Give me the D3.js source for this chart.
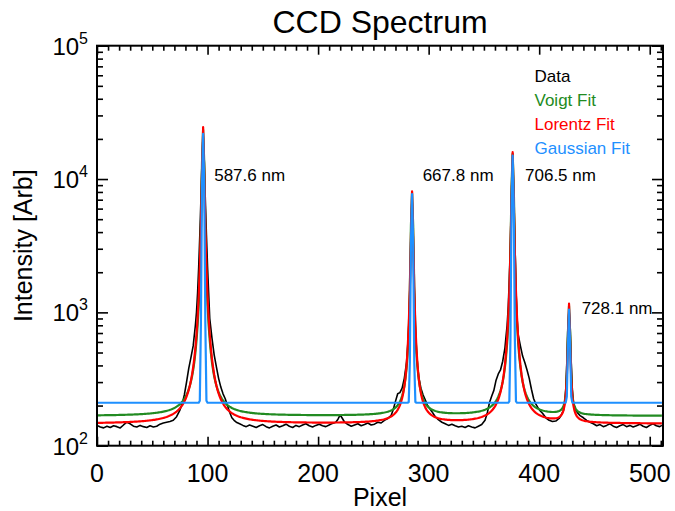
<!DOCTYPE html>
<html><head><meta charset="utf-8">
<script src="https://cdn.jsdelivr.net/npm/d3@7"></script>
<style>body{margin:0;background:#fff}svg{display:block}</style>
</head><body><svg id="c" width="675" height="511"></svg>
<script>
// ---- data ----
const dataPixel = [0,3,6,9,12,15,18,21,24,27,30,33,36,39,42,45,48,51,54,57,60,63,66,69,72,75,77,79,81,83,85,87,89,90,91,92,93,94,95,96,97,98,99,100,101,102,104,106,108,110,112,114,116,118,120,122,124,126,129,132,135,138,141,144,147,150,153,156,159,162,165,168,171,174,177,180,183,186,189,192,195,198,201,204,207,210,213,216,218,220,222,224,227,230,233,236,239,242,245,248,251,254,257,260,263,266,268,270,272,274,276,278,280,281,282,283,284,285,286,287,288,289,290,291,293,295,297,299,301,303,306,309,312,315,318,321,324,327,330,333,336,339,342,345,348,351,353,355,357,359,361,363,365,367,369,370,371,372,373,374,375,376,377,378,379,380,381,383,385,387,389,391,393,395,397,399,401,403,406,409,412,415,418,420,422,423,424,425,426,427,428,429,430,431,433,435,437,440,443,446,449,452,455,458,461,464,467,470,473,476,479,482,485,488,491,494,497,500,503,506,509,511];
const dataValue = [142,138,136,140,137,141,139,136,143,150,146,140,138,142,139,137,141,138,140,145,148,150,152,155,165,185,205,240,300,380,460,560,800,1000,1400,2200,3800,7000,14000,22000,14000,7000,3800,2200,1400,900,640,480,390,320,275,245,225,200,178,162,155,150,146,142,139,143,140,137,141,144,139,136,140,143,138,141,145,140,137,142,139,143,146,141,138,142,145,141,139,143,147,150,158,170,160,150,144,140,143,146,141,144,148,143,145,150,148,155,160,168,187,215,245,250,270,320,420,550,800,1500,4000,7700,4000,1500,800,520,400,330,270,240,220,200,190,180,165,156,150,146,142,145,141,138,140,137,141,138,136,140,144,155,175,210,235,260,310,345,370,430,540,660,800,1100,1800,3500,8000,15000,8000,3500,1500,900,680,560,470,420,370,320,265,225,205,192,182,175,162,155,152,153,160,170,185,210,260,420,800,1050,800,420,260,210,185,175,168,162,155,150,146,141,144,139,142,146,140,137,141,144,139,142,138,141,145,140,137,142,146,141,139,142];

// fit parameters (one entry per peak)
const peakCenters   = [96, 285, 376, 427];
const lorentzAmp    = [24350, 7950, 15750, 1010];
const lorentzWidth  = [0.9, 0.9, 0.9, 0.9];
const lorentzBase   = 146;
const gaussAmp      = [21600, 7500, 14800, 840];
const gaussSigma    = [0.75, 0.75, 0.75, 0.75];
const gaussBase     = 210;
const voigtAmp      = [23200, 7700, 15300, 950];
const voigtLorWidth = [1.2, 1.2, 1.2, 1.2];
const voigtGaussSig = [0.9, 0.9, 0.9, 0.9];
const voigtEta      = 0.5;
const voigtBase     = 167;

const peakLabels     = ["587.6 nm", "667.8 nm", "706.5 nm", "728.1 nm"];
const peakLabelPixel = [106, 294.6, 387.2, 438.4];
const peakLabelValue = [9700, 9700, 9700, 972];

const legendNames  = ["Data", "Voigt Fit", "Lorentz Fit", "Gaussian Fit"];
const legendColors = ["#000000", "#228B22", "#FF0000", "#1E90FF"];

const xMajorTicks = [0, 100, 200, 300, 400, 500];
const yMajorTicks = [100, 1000, 10000, 100000];
const yExponents  = ["2", "3", "4", "5"];

// ---- layout ----
const L = 97, R = 663, T = 45.7, B = 445.7;
const svg = d3.select("#c");
const x = d3.scaleLinear().domain([0, 512]).range([L, R]);
const y = d3.scaleLog().domain([100, 100000]).range([B, T]);

const pixels = d3.range(0, 512);
const lorentz = p => lorentzBase + d3.sum(peakCenters, (c, i) => lorentzAmp[i] / (1 + ((p - c) / lorentzWidth[i]) ** 2));
const gauss = p => gaussBase + d3.sum(peakCenters, (c, i) => gaussAmp[i] * Math.exp(-((p - c) ** 2) / (2 * gaussSigma[i] ** 2)));
const voigt = p => voigtBase + d3.sum(peakCenters, (c, i) => voigtAmp[i] * (
  voigtEta / (1 + ((p - c) / voigtLorWidth[i]) ** 2) +
  (1 - voigtEta) * Math.exp(-((p - c) ** 2) / (2 * voigtGaussSig[i] ** 2))));

svg.append("defs").append("clipPath").attr("id", "clip")
  .append("rect").attr("x", L).attr("y", T).attr("width", R - L).attr("height", B - T);

const g = svg.append("g").attr("clip-path", "url(#clip)");
const line = d3.line().x(d => x(d[0])).y(d => y(d[1]));

g.append("path").datum(dataPixel.map((p, i) => [p, dataValue[i]]))
  .attr("d", line).attr("fill", "none").attr("stroke", "#000").attr("stroke-width", 1.6).attr("stroke-linejoin", "round");
g.append("path").datum(pixels.map(p => [p, voigt(p)]))
  .attr("d", line).attr("fill", "none").attr("stroke", legendColors[1]).attr("stroke-width", 2.2).attr("stroke-linejoin", "round");
g.append("path").datum(pixels.map(p => [p, lorentz(p)]))
  .attr("d", line).attr("fill", "none").attr("stroke", legendColors[2]).attr("stroke-width", 2.2).attr("stroke-linejoin", "round");
g.append("path").datum(pixels.map(p => [p, gauss(p)]))
  .attr("d", line).attr("fill", "none").attr("stroke", legendColors[3]).attr("stroke-width", 2.2).attr("stroke-linejoin", "round");

// ---- axes (IDL style, inward ticks on all sides) ----
const font = "Liberation Sans, Arial, Helvetica, sans-serif";
const xMinor = d3.range(0, 513, 10).filter(v => v % 100 !== 0);
const yMinor = [];
[100, 1000, 10000].forEach(d => { for (let k = 2; k <= 9; k++) yMinor.push(k * d); });

function styleAxis(sel) {
  sel.select(".domain").remove();
  sel.selectAll(".tick line").attr("stroke", "#000").attr("stroke-width", 1.6);
  sel.selectAll("text").remove();
}
svg.append("g").attr("transform", `translate(0,${B})`).call(d3.axisBottom(x).tickValues(xMajorTicks).tickSize(-9)).call(styleAxis);
svg.append("g").attr("transform", `translate(0,${B})`).call(d3.axisBottom(x).tickValues(xMinor).tickSize(-5)).call(styleAxis);
svg.append("g").attr("transform", `translate(0,${T})`).call(d3.axisTop(x).tickValues(xMajorTicks).tickSize(-9)).call(styleAxis);
svg.append("g").attr("transform", `translate(0,${T})`).call(d3.axisTop(x).tickValues(xMinor).tickSize(-5)).call(styleAxis);
svg.append("g").attr("transform", `translate(${L},0)`).call(d3.axisLeft(y).tickValues(yMajorTicks).tickSize(-11)).call(styleAxis);
svg.append("g").attr("transform", `translate(${L},0)`).call(d3.axisLeft(y).tickValues(yMinor).tickSize(-6)).call(styleAxis);
svg.append("g").attr("transform", `translate(${R},0)`).call(d3.axisRight(y).tickValues(yMajorTicks).tickSize(-11)).call(styleAxis);
svg.append("g").attr("transform", `translate(${R},0)`).call(d3.axisRight(y).tickValues(yMinor).tickSize(-6)).call(styleAxis);

svg.append("rect").attr("x", L).attr("y", T).attr("width", R - L).attr("height", B - T)
  .attr("fill", "none").attr("stroke", "#000").attr("stroke-width", 2);

// tick labels
svg.append("g").selectAll("text").data(xMajorTicks).join("text")
  .attr("x", d => x(d)).attr("y", 481.5).attr("text-anchor", "middle")
  .attr("font-family", font).attr("font-size", 25).text(d => d);

const yl = svg.append("g").selectAll("text").data(yMajorTicks).join("text")
  .attr("x", 88).attr("y", d => y(d) + 9).attr("text-anchor", "end")
  .attr("font-family", font).attr("font-size", 24);
yl.append("tspan").text("10");
yl.append("tspan").attr("dy", -11).attr("font-size", 16).text((d, i) => yExponents[i]);

// axis titles
svg.append("text").attr("x", (L + R) / 2).attr("y", 506).attr("text-anchor", "middle")
  .attr("font-family", font).attr("font-size", 25).text("Pixel");
svg.append("text").attr("transform", `translate(32,${(T + B) / 2}) rotate(-90)`).attr("text-anchor", "middle")
  .attr("font-family", font).attr("font-size", 25).text("Intensity [Arb]");
svg.append("text").attr("x", (L + R) / 2).attr("y", 33).attr("text-anchor", "middle")
  .attr("font-family", font).attr("font-size", 32).text("CCD Spectrum");

// peak annotations
svg.append("g").selectAll("text").data(peakLabels).join("text")
  .attr("x", (d, i) => x(peakLabelPixel[i])).attr("y", (d, i) => y(peakLabelValue[i]))
  .attr("font-family", font).attr("font-size", 17).attr("fill", "#000").text(d => d);

// legend
svg.append("g").selectAll("text").data(legendNames).join("text")
  .attr("x", 534.5).attr("y", (d, i) => 82 + i * 24)
  .attr("font-family", font).attr("font-size", 17).attr("fill", (d, i) => legendColors[i]).text(d => d);
</script></body></html>
